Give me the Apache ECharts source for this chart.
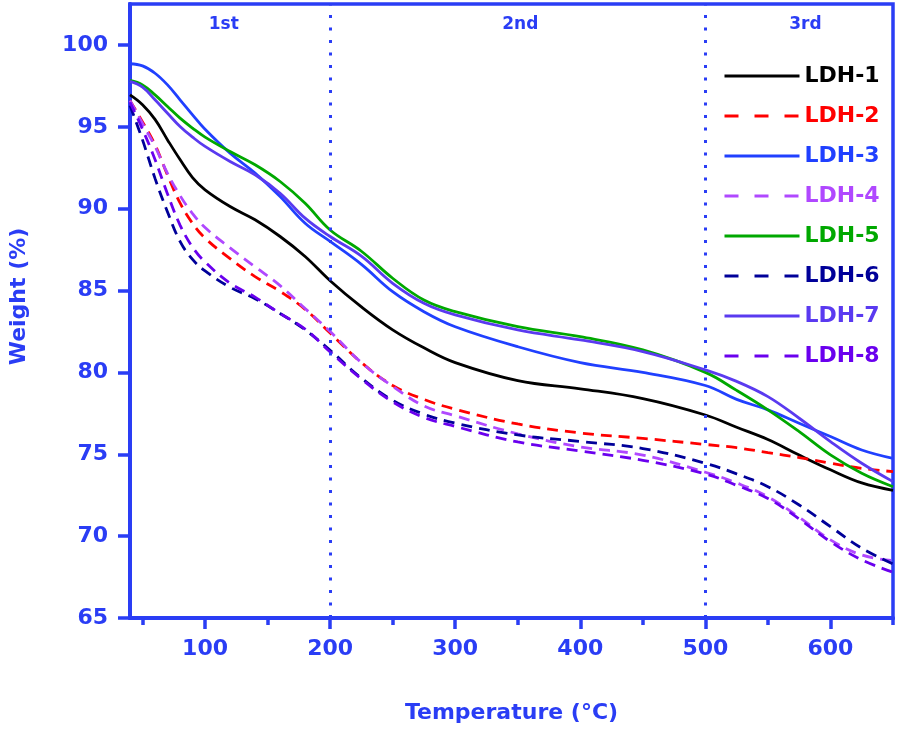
<!DOCTYPE html>
<html>
<head>
<meta charset="utf-8">
<script src="https://cdn.jsdelivr.net/npm/echarts@6/dist/echarts.min.js"></script>
<style>
html,body{margin:0;padding:0;background:#fff;}
#chart{width:899px;height:735px;}
</style>
</head>
<body>
<div id="chart"></div>
<script>
// ---- data ----
var temps = [40,50,60,70,80,90,100,120,140,160,180,200,225,250,275,300,350,400,450,500,525,550,575,600,625,650];
var ldh1 = [96.95,96.35,95.45,94.2,93.0,91.9,91.15,90.13,89.32,88.3,87.08,85.6,84.0,82.6,81.5,80.6,79.5,79.0,78.4,77.4,76.65,75.9,74.95,74.05,73.25,72.8];
var ldh2 = [96.6,95.3,93.9,92.05,90.35,89.1,88.2,86.95,85.85,84.95,83.85,82.4,80.6,79.2,78.35,77.75,76.85,76.3,75.97,75.6,75.4,75.1,74.8,74.45,74.14,73.94];
var ldh3 = [98.85,98.72,98.27,97.56,96.65,95.73,94.85,93.39,92.17,90.74,89.11,88.0,86.6,84.93,83.71,82.79,81.57,80.6,80.0,79.2,78.35,77.71,76.89,76.08,75.26,74.75];
var ldh4 = [96.6,95.2,93.8,92.15,90.8,89.7,88.85,87.6,86.45,85.3,83.9,82.5,80.6,79.15,77.95,77.35,76.25,75.45,74.95,73.9,73.25,72.4,71.15,69.77,68.85,68.5];
var ldh5 = [97.83,97.56,96.95,96.24,95.53,94.92,94.37,93.49,92.68,91.66,90.33,88.7,87.4,85.75,84.42,83.71,82.79,82.18,81.37,80.0,78.9,77.71,76.38,74.96,73.84,73.02];
var ldh6 = [96.3,94.2,91.85,89.8,88.0,86.9,86.2,85.2,84.5,83.6,82.6,81.35,79.65,78.3,77.45,76.9,76.18,75.78,75.35,74.45,73.8,73.02,71.9,70.58,69.26,68.3];
var ldh7 = [97.77,97.42,96.65,95.83,95.02,94.37,93.8,92.88,92.07,90.94,89.42,88.3,87.1,85.44,84.22,83.51,82.59,81.98,81.27,80.15,79.45,78.52,77.2,75.77,74.45,73.33];
var ldh8 = [96.5,94.85,93.0,90.9,89.0,87.65,86.75,85.45,84.6,83.6,82.65,81.25,79.6,78.2,77.25,76.7,75.75,75.2,74.63,73.8,73.1,72.3,71.05,69.66,68.55,67.8];

var seriesNames = ['LDH-1','LDH-2','LDH-3','LDH-4','LDH-5','LDH-6','LDH-7','LDH-8'];
var seriesValues = [ldh1,ldh2,ldh3,ldh4,ldh5,ldh6,ldh7,ldh8];
var seriesColors = ['#000000','#ff0000','#2040ff','#b048ff','#00a800','#000099','#5a3af0','#6a00ee'];
var seriesDashed = [false,true,false,true,false,true,false,true];

var xTicks = [100,200,300,400,500,600];
var xMinorTicks = [50,150,250,350,450,550,650];
var yTicks = [65,70,75,80,85,90,95,100];
var stageBounds = [200,500];
var stageLabels = ['1st','2nd','3rd'];
var stageLabelX = [115,352,580];
var stageLabelY = 101.25;

// ---- chart ----
var AXIS = '#2a3df5';
var FONT = 'DejaVu Sans';
var chart = echarts.init(document.getElementById('chart'));

function pairs(vals){ return temps.map(function(t,i){ return [t, vals[i]]; }); }

var series = seriesNames.map(function(n,i){
  return {
    name: n, type: 'line', data: pairs(seriesValues[i]),
    symbol: 'none', smooth: 0.4,
    color: seriesColors[i],
    lineStyle: { color: seriesColors[i], width: 2.8, type: seriesDashed[i] ? [11,7] : 'solid' },
    z: 3
  };
});

series.push({
  name: 'stages', type: 'scatter', silent: true, symbolSize: 0,
  itemStyle: { opacity: 1 },
  data: stageLabels.map(function(s,i){ return { name: s, value: [stageLabelX[i], stageLabelY] }; }),
  label: { show: true, position: 'inside', formatter: '{b}', color: AXIS, fontSize: 17, fontWeight: 'bold', fontFamily: FONT, opacity: 1 },
  markLine: {
    silent: true, symbol: 'none', label: { show: false },
    lineStyle: { color: AXIS, width: 3, type: [3, 9.5], opacity: 1 },
    emphasis: { disabled: true },
    data: stageBounds.map(function(v){ return { xAxis: v }; })
  },
  z: 2
});

chart.setOption({
  animation: false,
  backgroundColor: '#fff',
  textStyle: { fontFamily: FONT, fontWeight: 'bold' },
  grid: { left: 130, top: 4, width: 763, height: 614, show: true, borderColor: AXIS, borderWidth: 3.5, backgroundColor: 'transparent' },
  legend: {
    orient: 'vertical', left: 718, top: 59,
    itemWidth: 75, itemHeight: 14, itemGap: 16,
    itemStyle: { opacity: 0 },
    lineStyle: { width: 3 },
    textStyle: { fontSize: 22, fontWeight: 'bold', fontFamily: FONT, lineHeight: 24 },
    data: seriesNames.map(function(n,i){
      var item = { name: n, textStyle: { color: seriesColors[i] } };
      if (seriesDashed[i]) { item.lineStyle = { width: 3, type: [14, 16] }; }
      return item;
    })
  },
  xAxis: [{
    type: 'value', min: 40, max: 650,
    name: 'Temperature (°C)', nameLocation: 'middle', nameGap: 84,
    nameTextStyle: { color: AXIS, fontSize: 22, fontWeight: 'bold', fontFamily: FONT },
    axisLine: { show: true, lineStyle: { color: AXIS, width: 4 } },
    axisTick: { show: true, inside: false, length: 11, lineStyle: { color: AXIS, width: 3.5 }, customValues: xTicks },
    axisLabel: { color: AXIS, fontSize: 22, fontWeight: 'bold', fontFamily: FONT, margin: 20, customValues: xTicks },
    splitLine: { show: false }
  }, {
    type: 'value', min: 40, max: 650, position: 'bottom',
    axisLine: { show: false },
    axisTick: { show: true, inside: false, length: 7, lineStyle: { color: AXIS, width: 3.5 }, customValues: xMinorTicks },
    axisLabel: { show: false },
    splitLine: { show: false }
  }],
  yAxis: {
    type: 'value', min: 65, max: 102.5,
    name: 'Weight (%)', nameLocation: 'middle', nameGap: 100, nameRotate: 90,
    nameTextStyle: { color: AXIS, fontSize: 22, fontWeight: 'bold', fontFamily: FONT, padding: [0, 0, 0, 29] },
    axisLine: { show: true, lineStyle: { color: AXIS, width: 4 } },
    axisTick: { show: true, inside: false, length: 12, lineStyle: { color: AXIS, width: 3.5 }, customValues: yTicks },
    axisLabel: { color: AXIS, fontSize: 22, fontWeight: 'bold', fontFamily: FONT, margin: 22, customValues: yTicks },
    splitLine: { show: false }
  },
  series: series
});
</script>
</body>
</html>
